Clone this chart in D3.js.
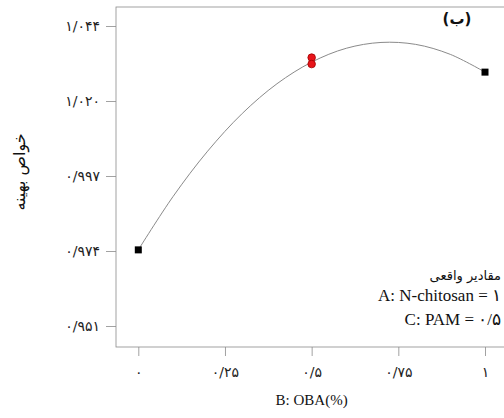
<!DOCTYPE html>
<html><head><meta charset="utf-8">
<script src="https://cdn.jsdelivr.net/npm/d3@7"></script>
<style>body{margin:0;background:#fff}svg{display:block}</style>
</head><body>
<svg id="c" width="504" height="418"></svg>
<script>
// Data
const xTicks = [0, 0.25, 0.5, 0.75, 1];
const xTickLabels = ["۰", "۰/۲۵", "۰/۵", "۰/۷۵", "۱"];
const yTicks = [0.951, 0.97425, 0.9975, 1.02075, 1.044];
const yTickLabels = ["۰/۹۵۱", "۰/۹۷۴", "۰/۹۹۷", "۱/۰۲۰", "۱/۰۴۴"];
const curveX = [0, 0.1, 0.2, 0.3, 0.4, 0.5, 0.6, 0.7, 0.8, 0.9, 1.0];
const curveY = [0.9746, 0.9911, 1.0052, 1.0169, 1.0261, 1.0328, 1.0371, 1.0389, 1.0383, 1.0352, 1.0297];
const squareX = [0, 1];
const squareY = [0.9746, 1.0297];
const redX = [0.5, 0.5];
const redY = [1.0342, 1.0322];
const legendLines = ["مقادیر واقعی", "A: N-chitosan = ۱", "C: PAM = ۰/۵"];

const svg = d3.select("#c");
const x = d3.scaleLinear().domain([0, 1]).range([138.3, 485]);
const y = d3.scaleLinear().domain([0.951, 1.044]).range([326, 26]);
const frame = {l: 116, t: 7, r: 540, b: 347};
const gray = "#8a8a8a";

svg.append("rect").attr("x", frame.l).attr("y", frame.t)
  .attr("width", frame.r - frame.l).attr("height", frame.b - frame.t)
  .attr("fill", "none").attr("stroke", gray).attr("stroke-width", 0.8);

const xAxis = d3.axisBottom(x).tickValues(xTicks).tickSize(9).tickPadding(11)
  .tickFormat((d, i) => xTickLabels[i]);
const gx = svg.append("g").attr("transform", `translate(0,${frame.b})`).call(xAxis);
gx.select(".domain").remove();
gx.selectAll(".tick line").attr("stroke", gray).attr("stroke-width", 0.8);
gx.selectAll(".tick text").attr("font-family", "DejaVu Sans").attr("font-size", 14).attr("fill", "#222");

const yAxis = d3.axisLeft(y).tickValues(yTicks).tickSize(10).tickPadding(6)
  .tickFormat((d, i) => yTickLabels[i]);
const gy = svg.append("g").attr("transform", `translate(${frame.l},0)`).call(yAxis);
gy.select(".domain").remove();
gy.selectAll(".tick line").attr("stroke", gray).attr("stroke-width", 0.8);
gy.selectAll(".tick text").attr("font-family", "DejaVu Sans").attr("font-size", 14).attr("fill", "#222");

// curve
const line = d3.line().x(d => x(d[0])).y(d => y(d[1])).curve(d3.curveCatmullRom);
svg.append("path").datum(curveX.map((v, i) => [v, curveY[i]]))
  .attr("d", line).attr("fill", "none").attr("stroke", "#8a8a8a").attr("stroke-width", 1);

// squares
const s = 7;
svg.selectAll("rect.sq").data(squareX.map((v, i) => [v, squareY[i]])).enter()
  .append("rect").attr("class", "sq")
  .attr("x", d => x(d[0]) - s / 2).attr("y", d => y(d[1]) - s / 2)
  .attr("width", s).attr("height", s).attr("fill", "#000");

// red points
svg.selectAll("circle.rd").data(redX.map((v, i) => [v, redY[i]])).enter()
  .append("circle").attr("class", "rd")
  .attr("cx", d => x(d[0])).attr("cy", d => y(d[1])).attr("r", 3.8)
  .attr("fill", "#e8141a").attr("stroke", "#a00000").attr("stroke-width", 0.8);

// axis titles
svg.append("text").attr("x", x(0.5)).attr("y", 405).attr("text-anchor", "middle")
  .attr("font-family", "Liberation Serif").attr("font-size", 15).attr("fill", "#111")
  .text("B: OBA(%)");
svg.append("text").attr("transform", "translate(25,172) rotate(-90)").attr("text-anchor", "middle")
  .attr("font-family", "DejaVu Sans").attr("font-size", 16).attr("fill", "#111")
  .text("خواص بهینه");

// panel label
svg.append("text").attr("x", 457).attr("y", 24).attr("text-anchor", "middle")
  .attr("font-family", "DejaVu Sans").attr("font-size", 15).attr("font-weight", "bold").attr("fill", "#111")
  .text("(ب)");

// legend text
const ly = [280, 301, 325];
legendLines.forEach((t, i) => {
  svg.append("text").attr("x", 501).attr("y", ly[i]).attr("text-anchor", "end")
    .attr("font-family", i === 0 ? "DejaVu Sans" : "Liberation Serif")
    .attr("font-size", i === 0 ? 13 : 17).attr("fill", "#111")
    .style("direction", "ltr").style("unicode-bidi", "plaintext")
    .text(t);
});
</script>
</body></html>
